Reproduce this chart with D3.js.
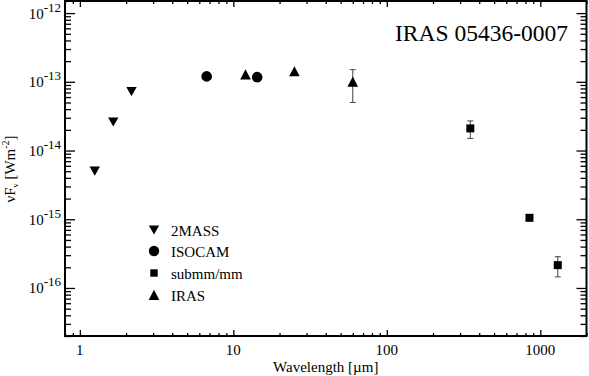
<!DOCTYPE html>
<html><head><meta charset="utf-8">
<script src="https://cdn.jsdelivr.net/npm/d3@7"></script>
</head>
<body style="margin:0;background:#fff">
<svg id="chart" width="589" height="376" style="display:block"></svg>
<script>
// Data (wavelength in micron, nuFnu in W m^-2)
const twomassX = [1.25, 1.65, 2.17];
const twomassY = [5.0e-15, 2.6e-14, 7.2e-14];
const isocamX = [6.7, 14.3];
const isocamY = [1.2e-13, 1.17e-13];
const submmX = [350, 850, 1300];
const submmY = [2.1e-14, 1.05e-15, 2.15e-16];
const submmErr = [6e-15, 1e-16, 7e-17];
const irasX = [12, 25, 60];
const irasY = [1.28e-13, 1.42e-13, 1.0e-13];
const irasErr = [0, 0, 5e-14];
const xTickLabels = ["1", "10", "100", "1000"];
const yTickExps = ["-12", "-13", "-14", "-15", "-16"];
const legendLabels = ["2MASS", "ISOCAM", "submm/mm", "IRAS"];
const title = "IRAS 05436-0007";

const FONT = "'Liberation Serif'";
const svg = d3.select("#chart");
const L = 65, R = 586.5, T = 1, B = 336;
const x = d3.scaleLog().domain([0.8, 2000]).range([L, R]);
const y = d3.scaleLog().domain([2e-17, 1.5e-12]).range([B, T]);

const isMajor = v => Math.abs(Math.log10(v) - Math.round(Math.log10(v))) < 1e-9;
const xt = x.ticks();
const yt = y.ticks();
const xMaj = xt.filter(isMajor), xMin = xt.filter(v => !isMajor(v));
const yMaj = yt.filter(isMajor), yMin = yt.filter(v => !isMajor(v));

function styleAxis(g){ g.select(".domain").remove(); g.selectAll("line").attr("stroke","#000").attr("stroke-width",1.3); g.selectAll("text").remove(); }
svg.append("g").attr("transform",`translate(0,${B})`).call(d3.axisBottom(x).tickValues(xMaj).tickSize(-6).tickFormat("")).call(styleAxis);
svg.append("g").attr("transform",`translate(0,${B})`).call(d3.axisBottom(x).tickValues(xMin).tickSize(-3).tickFormat("")).call(styleAxis);
svg.append("g").attr("transform",`translate(0,${T})`).call(d3.axisTop(x).tickValues(xMaj).tickSize(-6).tickFormat("")).call(styleAxis);
svg.append("g").attr("transform",`translate(0,${T})`).call(d3.axisTop(x).tickValues(xMin).tickSize(-3).tickFormat("")).call(styleAxis);
svg.append("g").attr("transform",`translate(${L},0)`).call(d3.axisLeft(y).tickValues(yMaj).tickSize(-10).tickFormat("")).call(styleAxis);
svg.append("g").attr("transform",`translate(${L},0)`).call(d3.axisLeft(y).tickValues(yMin).tickSize(-6).tickFormat("")).call(styleAxis);
svg.append("g").attr("transform",`translate(${R},0)`).call(d3.axisRight(y).tickValues(yMaj).tickSize(-10).tickFormat("")).call(styleAxis);
svg.append("g").attr("transform",`translate(${R},0)`).call(d3.axisRight(y).tickValues(yMin).tickSize(-6).tickFormat("")).call(styleAxis);

svg.append("rect").attr("x",L).attr("y",T).attr("width",R-L).attr("height",B-T)
  .attr("fill","none").attr("stroke","#000").attr("stroke-width",2);

// x tick labels
svg.append("g").selectAll("text").data(xMaj).join("text")
  .attr("font-family",FONT)
  .attr("x", d => x(d)).attr("y", 355).attr("text-anchor","middle")
  .attr("font-size",15).text((d,i) => xTickLabels[i]);

// y tick labels
const ylab = svg.append("g").selectAll("text").data(yMaj.slice().reverse()).join("text")
  .attr("font-family",FONT)
  .attr("x", 61).attr("y", d => y(d) + 5.5).attr("text-anchor","end").attr("font-size",15);
ylab.append("tspan").text("10");
ylab.append("tspan").attr("dy",-7).attr("font-size",13).text((d,i) => yTickExps[i]);

// axis titles
svg.append("text").attr("font-family",FONT).attr("x",(L+R)/2).attr("y",372).attr("text-anchor","middle").attr("font-size",15)
  .text("Wavelength [\u00b5m]");
const yl = svg.append("text").attr("font-family",FONT).attr("transform","translate(15,169) rotate(-90)").attr("text-anchor","middle").attr("font-size",15);
yl.append("tspan").text("\u03bdF");
yl.append("tspan").attr("font-size",9).attr("dy",3).text("\u03bd");
yl.append("tspan").attr("dy",-3).text(" [Wm");
yl.append("tspan").attr("font-size",10).attr("dy",-6).text("-2");
yl.append("tspan").attr("dy",6).text("]");

// title
svg.append("text").attr("font-family",FONT).attr("x",568).attr("y",41).attr("text-anchor","end").attr("font-size",23.5).text(title);

// symbols
function downTri(cx, cy){ return `M${cx-5.2},${cy-4.6}L${cx+5.2},${cy-4.6}L${cx},${cy+4.6}Z`; }
function upTri(cx, cy){ return `M${cx-5.3},${cy+5}L${cx+5.3},${cy+5}L${cx},${cy-5.2}Z`; }

const errG = svg.append("g").attr("stroke","#444").attr("stroke-width",1);
function errBars(xs, ys, es){
  xs.forEach((xv,i)=>{
    const e = es[i]; if(!e) return;
    const cx = x(xv), y1 = y(ys[i]+e), y2 = y(ys[i]-e);
    errG.append("line").attr("x1",cx).attr("x2",cx).attr("y1",y1).attr("y2",y2);
    errG.append("line").attr("x1",cx-3).attr("x2",cx+3).attr("y1",y1).attr("y2",y1);
    errG.append("line").attr("x1",cx-3).attr("x2",cx+3).attr("y1",y2).attr("y2",y2);
  });
}
errBars(submmX, submmY, submmErr);
errBars(irasX, irasY, irasErr);

const mk = svg.append("g").attr("fill","#000");
twomassX.forEach((xv,i)=> mk.append("path").attr("d", downTri(x(xv), y(twomassY[i]))));
isocamX.forEach((xv,i)=> mk.append("circle").attr("cx", x(xv)).attr("cy", y(isocamY[i])).attr("r",5.3));
submmX.forEach((xv,i)=> mk.append("rect").attr("x", x(xv)-4).attr("y", y(submmY[i])-4).attr("width",8).attr("height",8));
irasX.forEach((xv,i)=> mk.append("path").attr("d", upTri(x(xv), y(irasY[i]))));

// legend
const legY = [230, 251, 273, 295];
const lg = svg.append("g");
lg.append("path").attr("d", downTri(154, legY[0]));
lg.append("circle").attr("cx",154).attr("cy",legY[1]).attr("r",5.2);
lg.append("rect").attr("x",150.3).attr("y",legY[2]-3.7).attr("width",7.4).attr("height",7.4);
lg.append("path").attr("d", upTri(154, legY[3]));
lg.selectAll("text").data(legendLabels).join("text")
  .attr("font-family",FONT)
  .attr("x",171).attr("y",(d,i)=>legY[i]+5.5).attr("font-size",15).text(d=>d);
</script>
</body></html>
